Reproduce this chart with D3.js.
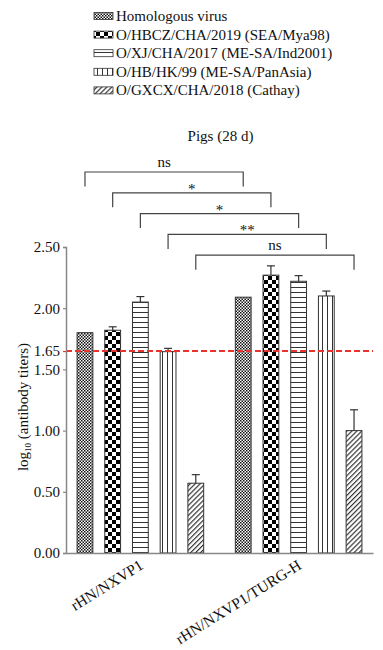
<!DOCTYPE html>
<html><head><meta charset="utf-8">
<script src="https://cdn.jsdelivr.net/npm/d3@7"></script>
<style>
html,body{margin:0;padding:0;background:#fff;}
svg{display:block;font-family:"Liberation Serif","Times New Roman",serif;}
</style></head>
<body><svg id="c" width="383" height="650"></svg>
<script>
const groups = ["rHN/NXVP1", "rHN/NXVP1/TURG-H"];
const series = ["Homologous virus", "O/HBCZ/CHA/2019 (SEA/Mya98)", "O/XJ/CHA/2017 (ME-SA/Ind2001)", "O/HB/HK/99 (ME-SA/PanAsia)", "O/GXCX/CHA/2018 (Cathay)"];
const valuesG1 = [1.80, 1.82, 2.05, 1.645, 0.57];
const errorsG1 = [0, 0.028, 0.045, 0.027, 0.07];
const valuesG2 = [2.09, 2.27, 2.22, 2.10, 1.00];
const errorsG2 = [0, 0.076, 0.046, 0.04, 0.17];
const yTicks = [0, 0.5, 1.0, 1.5, 1.65, 2.0, 2.5];
const threshold = 1.65;
const sigLabels = ["ns", "*", "*", "**", "ns"];
const title = "Pigs (28 d)";

const svg = d3.select("#c");
const defs = svg.append("defs");
const patIds = ["p0","p1","p2","p3","p4"];
// fine checker
let p = defs.append("pattern").attr("id","p0").attr("patternUnits","userSpaceOnUse").attr("width",3).attr("height",3);
p.append("rect").attr("width",3).attr("height",3).attr("fill","#fff");
p.append("rect").attr("width",1.5).attr("height",1.5).attr("fill","#111");
p.append("rect").attr("x",1.5).attr("y",1.5).attr("width",1.5).attr("height",1.5).attr("fill","#111");
// coarse checker
p = defs.append("pattern").attr("id","p1").attr("patternUnits","userSpaceOnUse").attr("width",8).attr("height",8);
p.append("rect").attr("width",8).attr("height",8).attr("fill","#fff");
p.append("rect").attr("width",4).attr("height",4).attr("fill","#000");
p.append("rect").attr("x",4).attr("y",4).attr("width",4).attr("height",4).attr("fill","#000");
// horizontal lines
p = defs.append("pattern").attr("id","p2").attr("patternUnits","userSpaceOnUse").attr("width",5).attr("height",5);
p.append("rect").attr("width",5).attr("height",5).attr("fill","#fff");
p.append("line").attr("x1",0).attr("x2",5).attr("y1",2.5).attr("y2",2.5).attr("stroke","#333").attr("stroke-width",1);
// vertical lines
p = defs.append("pattern").attr("id","p3").attr("patternUnits","userSpaceOnUse").attr("width",5).attr("height",5);
p.append("rect").attr("width",5).attr("height",5).attr("fill","#fff");
p.append("line").attr("y1",0).attr("y2",5).attr("x1",2.5).attr("x2",2.5).attr("stroke","#333").attr("stroke-width",1);
// diagonal
p = defs.append("pattern").attr("id","p4").attr("patternUnits","userSpaceOnUse").attr("width",3.5).attr("height",3.5).attr("patternTransform","rotate(45)");
p.append("rect").attr("width",3.5).attr("height",3.5).attr("fill","#fff");
p.append("line").attr("x1",0.6).attr("x2",0.6).attr("y1",0).attr("y2",3.5).attr("stroke","#222").attr("stroke-width",1.1);

const x0 = d3.scaleBand().domain(groups).range([66, 373]).paddingInner(0.2).paddingOuter(0.07);
const x1 = d3.scaleBand().domain(series).range([0, x0.bandwidth()]).paddingInner(0.43).paddingOuter(0);
const y = d3.scaleLinear().domain([0, 2.5]).range([553, 247]);

const data = [];
groups.forEach((g, gi) => {
  const vals = gi === 0 ? valuesG1 : valuesG2;
  const errs = gi === 0 ? errorsG1 : errorsG2;
  series.forEach((s, si) => data.push({g, s, si, v: vals[si], e: errs[si]}));
});

// Legend
const leg = svg.append("g");
series.forEach((s, i) => {
  const cy = 16 + i * 18.6;
  leg.append("rect").attr("x", 94).attr("y", cy - 3.5).attr("width", 19).attr("height", 7)
    .attr("fill", `url(#${patIds[i]})`).attr("stroke", "#333").attr("stroke-width", 0.8);
  leg.append("text").attr("x", 116).attr("y", cy + 5).attr("font-size", 15).attr("fill", "#111").text(s);
});

// Title
svg.append("text").attr("x", 220.5).attr("y", 141).attr("text-anchor", "middle").attr("font-size", 15).attr("fill","#111").text(title);

// Bars
const bars = svg.append("g");
bars.selectAll("rect").data(data).join("rect")
  .attr("x", d => x0(d.g) + x1(d.s))
  .attr("y", d => y(d.v))
  .attr("width", x1.bandwidth())
  .attr("height", d => y(0) - y(d.v))
  .attr("fill", d => `url(#${patIds[d.si]})`)
  .attr("stroke", "#333").attr("stroke-width", 1);

// Error bars
const eb = svg.append("g").attr("stroke", "#333").attr("stroke-width", 1.2);
data.filter(d => d.e > 0).forEach(d => {
  const cx = x0(d.g) + x1(d.s) + x1.bandwidth() / 2;
  eb.append("line").attr("x1", cx).attr("x2", cx).attr("y1", y(d.v)).attr("y2", y(d.v + d.e));
  eb.append("line").attr("x1", cx - 4).attr("x2", cx + 4).attr("y1", y(d.v + d.e)).attr("y2", y(d.v + d.e));
});

// Threshold line
svg.append("line").attr("x1", 66).attr("x2", 373).attr("y1", y(threshold)).attr("y2", y(threshold))
  .attr("stroke", "#e8342c").attr("stroke-width", 2).attr("stroke-dasharray", "6,3");

// Y axis
const yAxis = d3.axisLeft(y).tickValues(yTicks).tickFormat(d3.format(".2f")).tickSize(3).tickPadding(3);
const ya = svg.append("g").attr("transform", "translate(66,0)").call(yAxis);
ya.select(".domain").attr("stroke", "#888").attr("stroke-width", 1.5);
ya.selectAll(".tick line").attr("stroke", d => d === threshold ? "#e8342c" : "#888").attr("stroke-width", 1.2);
ya.selectAll(".tick text").attr("font-size", 15).attr("font-family", "Liberation Serif").attr("fill", "#111");

// X axis
const xa = svg.append("g").attr("transform", "translate(0,553)").call(d3.axisBottom(x0).tickSize(0).tickFormat(""));
xa.select(".domain").attr("stroke", "#888").attr("stroke-width", 1.5);
groups.forEach(g => {
  const cx = x0(g) + x0.bandwidth() / 2;
  svg.append("text").attr("transform", `translate(${cx + 4},568) rotate(-32)`)
    .attr("text-anchor", "end").attr("font-size", 15.5).attr("fill", "#111").text(g);
});

// Y label
const yl = svg.append("text").attr("transform", "translate(28,407) rotate(-90)").attr("text-anchor", "middle").attr("font-size", 15).attr("fill", "#111");
yl.append("tspan").text("log");
yl.append("tspan").attr("font-size", 9).attr("dy", 3).text("10");
yl.append("tspan").attr("dy", -3).text(" (antibody titers)");

// Significance brackets
const sg = svg.append("g");
sigLabels.forEach((lab, i) => {
  const xa_ = x0(groups[0]) + x1(series[i]) + x1.bandwidth() / 2;
  const xb_ = x0(groups[1]) + x1(series[i]) + x1.bandwidth() / 2;
  const ly = 172 + i * 20.8;
  sg.append("path").attr("d", `M${xa_},${ly + 14.5}V${ly}H${xb_}V${ly + 14.5}`)
    .attr("fill", "none").attr("stroke", "#444").attr("stroke-width", 1.2);
  const isStar = lab.indexOf("*") >= 0;
  sg.append("text").attr("x", (xa_ + xb_) / 2).attr("y", isStar ? ly + 1 : ly - 5)
    .attr("text-anchor", "middle").attr("font-size", 15).attr("fill", "#111").text(lab);
});
</script></body></html>
